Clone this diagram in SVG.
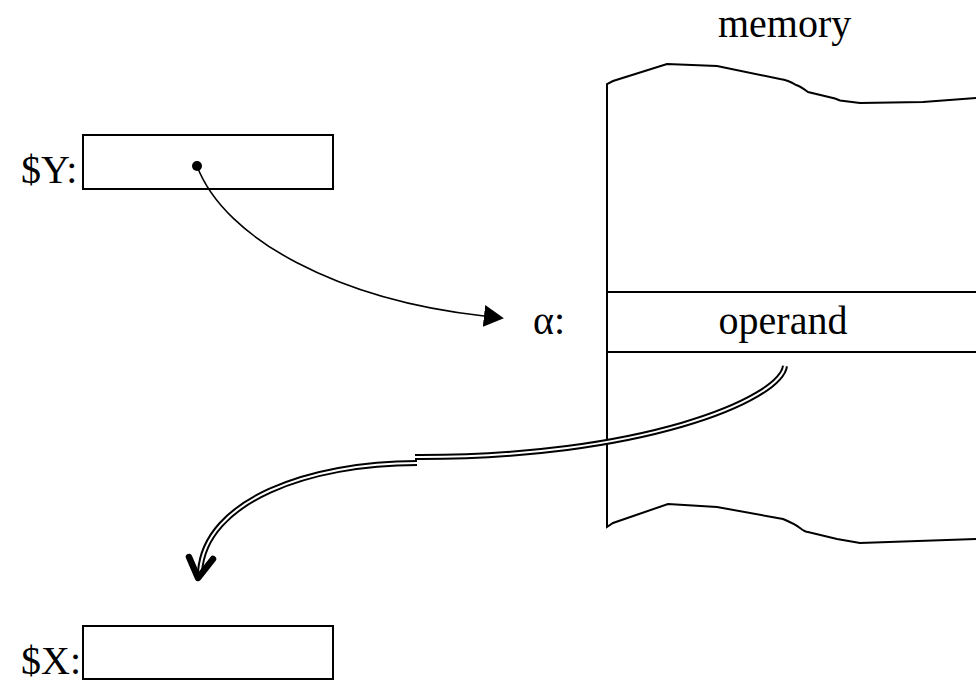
<svg xmlns="http://www.w3.org/2000/svg" width="976" height="682" viewBox="0 0 976 682">
  <style>
    .lbl { font-family: "Liberation Serif", "Times New Roman", serif; font-size: 40px; fill: #000; }
    .box { fill: #fff; stroke: #000; stroke-width: 2; }
    .edge { fill: none; stroke: #000; stroke-width: 2; }
    .thin { fill: none; stroke: #000; stroke-width: 1.6; }
  </style>
  <defs>
    <marker id="tri" markerWidth="20" markerHeight="22" refX="0" refY="11" orient="auto" markerUnits="userSpaceOnUse">
      <path d="M0,0 L20,11 L0,22 Z" fill="#000"/>
    </marker>
  </defs>
  <rect width="976" height="682" fill="#fff"/>

  <!-- memory block -->
  <g id="memory">
    <text class="lbl" x="718" y="37">memory</text>
    <path class="edge" d="M976,98 L923,102 L860,103 L840,100.5 L835,98.5 L808,92 Q800,86 796,85 Q788,80 780,79 L717,66 L667,64 L613,81 L607,84 L607,527 L613,523 L668,504 L717,507 L783,519 Q795,524 800,528 Q805,532 808,532 L837,539 L860,543 L976,539"/>
    <line class="edge" x1="607" y1="292" x2="976" y2="292"/>
    <line class="edge" x1="607" y1="352" x2="976" y2="352"/>
  </g>

  <g id="alpha">
    <text class="lbl" x="533" y="334">α:</text>
    <text class="lbl" x="783" y="334" text-anchor="middle">operand</text>
  </g>

  <g id="Y">
    <text class="lbl" x="21" y="183">$Y:</text>
    <rect class="box" x="83" y="135" width="250" height="54"/>
  </g>

  <g id="X">
    <text class="lbl" x="21" y="674">$X:</text>
    <rect class="box" x="83" y="626" width="250" height="53"/>
  </g>

  <!-- connectors -->
  <g id="connectors">
    <circle cx="197" cy="166" r="5" fill="#000"/>
    <path class="thin" d="M197,166 C225,240 340,300 484,316" marker-end="url(#tri)"/>

    <!-- double-line transfer arrow, drawn in two pieces -->
    <path d="M785,366 C780,400 640,458 415,457" fill="none" stroke="#000" stroke-width="6"/>
    <path d="M785,366 C780,400 640,458 415,457" fill="none" stroke="#fff" stroke-width="2"/>
    <path d="M417,463 C310,463 205,500 200,572" fill="none" stroke="#000" stroke-width="6"/>
    <path d="M417,463 C310,463 205,500 200,572" fill="none" stroke="#fff" stroke-width="2"/>
    <path d="M189,557 L198,578 L213,559" fill="none" stroke="#000" stroke-width="6.5" stroke-linecap="round" stroke-linejoin="round"/>
  </g>
</svg>
